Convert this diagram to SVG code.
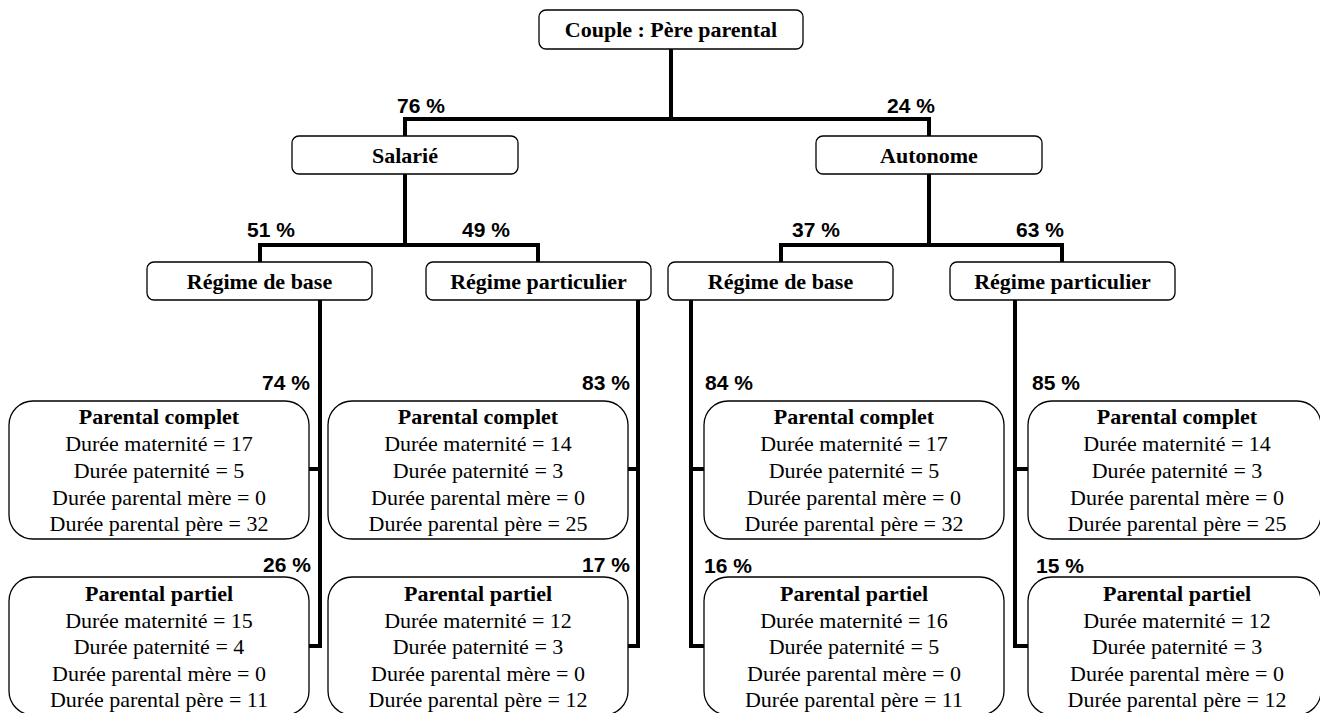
<svg xmlns="http://www.w3.org/2000/svg" width="1320" height="713" viewBox="0 0 1320 713">
<style>
.box{fill:#fff;stroke:#000;stroke-width:1.3}
.t{font-family:'Liberation Serif','Times New Roman','DejaVu Serif',serif;font-size:22px;text-anchor:middle;fill:#000}
.b{font-weight:bold}
.p{font-family:'Liberation Sans',Arial,sans-serif;font-size:21px;font-weight:bold;fill:#000}
.c{fill:none;stroke:#000;stroke-width:4;stroke-linejoin:miter;stroke-linecap:butt}
</style>
<rect width="1320" height="713" fill="#fff"/>
<g id="connectors">
<path class="c" d="M671 49V119M405 136V119H929V136"/>
<path class="c" d="M405 174V245M260 262V245H538V262"/>
<path class="c" d="M929 174V245M781 262V245H1062V262"/>
<path class="c" d="M320 300V646H309M320 469H309"/>
<path class="c" d="M638 300V646H628M638 469H628"/>
<path class="c" d="M691 300V646H704M691 469H704"/>
<path class="c" d="M1015 300V646H1028M1015 469H1028"/>
</g>
<g id="labels">
<text class="p" x="397" y="113">76 %</text>
<text class="p" x="887" y="113">24 %</text>
<text class="p" x="247" y="237">51 %</text>
<text class="p" x="462" y="237">49 %</text>
<text class="p" x="792" y="237">37 %</text>
<text class="p" x="1016" y="237">63 %</text>
<text class="p" x="262" y="390">74 %</text>
<text class="p" x="582" y="390">83 %</text>
<text class="p" x="705" y="390">84 %</text>
<text class="p" x="1032" y="390">85 %</text>
<text class="p" x="263" y="572">26 %</text>
<text class="p" x="582" y="572">17 %</text>
<text class="p" x="704" y="573">16 %</text>
<text class="p" x="1036" y="573">15 %</text>
</g>
<g id="root">
<rect class="box" x="539" y="10" width="264" height="39" rx="7"/>
<text class="t b" x="671" y="37" font-family="Liberation Serif, serif">Couple : Père parental</text>
</g>
<g id="salarie">
<rect class="box" x="292" y="136" width="226" height="38" rx="7"/>
<text class="t b" x="405" y="163">Salarié</text>
</g>
<g id="autonome">
<rect class="box" x="816" y="136" width="226" height="38" rx="7"/>
<text class="t b" x="929" y="163">Autonome</text>
</g>
<g id="sal-base">
<rect class="box" x="147" y="262" width="225" height="38" rx="7"/>
<text class="t b" x="259.5" y="289">Régime de base</text>
</g>
<g id="sal-part">
<rect class="box" x="426" y="262" width="225" height="38" rx="7"/>
<text class="t b" x="538.5" y="289">Régime particulier</text>
</g>
<g id="aut-base">
<rect class="box" x="668" y="262" width="225" height="38" rx="7"/>
<text class="t b" x="780.5" y="289">Régime de base</text>
</g>
<g id="aut-part">
<rect class="box" x="950" y="262" width="225" height="38" rx="7"/>
<text class="t b" x="1062.5" y="289">Régime particulier</text>
</g>
<g id="sal-base-complet">
<rect class="box" x="9" y="401" width="300" height="138" rx="24"/>
<text class="t b" x="159" y="424">Parental complet</text>
<text class="t" x="159" y="451">Durée maternité = 17</text>
<text class="t" x="159" y="478">Durée paternité = 5</text>
<text class="t" x="159" y="505">Durée parental mère = 0</text>
<text class="t" x="159" y="531">Durée parental père = 32</text>
</g>
<g id="sal-base-partiel">
<rect class="box" x="9" y="577" width="300" height="138" rx="24"/>
<text class="t b" x="159" y="601">Parental partiel</text>
<text class="t" x="159" y="628">Durée maternité = 15</text>
<text class="t" x="159" y="654">Durée paternité = 4</text>
<text class="t" x="159" y="681">Durée parental mère = 0</text>
<text class="t" x="159" y="707">Durée parental père = 11</text>
</g>
<g id="sal-part-complet">
<rect class="box" x="328" y="401" width="300" height="138" rx="24"/>
<text class="t b" x="478" y="424">Parental complet</text>
<text class="t" x="478" y="451">Durée maternité = 14</text>
<text class="t" x="478" y="478">Durée paternité = 3</text>
<text class="t" x="478" y="505">Durée parental mère = 0</text>
<text class="t" x="478" y="531">Durée parental père = 25</text>
</g>
<g id="sal-part-partiel">
<rect class="box" x="328" y="577" width="300" height="138" rx="24"/>
<text class="t b" x="478" y="601">Parental partiel</text>
<text class="t" x="478" y="628">Durée maternité = 12</text>
<text class="t" x="478" y="654">Durée paternité = 3</text>
<text class="t" x="478" y="681">Durée parental mère = 0</text>
<text class="t" x="478" y="707">Durée parental père = 12</text>
</g>
<g id="aut-base-complet">
<rect class="box" x="704" y="401" width="300" height="138" rx="24"/>
<text class="t b" x="854" y="424">Parental complet</text>
<text class="t" x="854" y="451">Durée maternité = 17</text>
<text class="t" x="854" y="478">Durée paternité = 5</text>
<text class="t" x="854" y="505">Durée parental mère = 0</text>
<text class="t" x="854" y="531">Durée parental père = 32</text>
</g>
<g id="aut-base-partiel">
<rect class="box" x="704" y="577" width="300" height="138" rx="24"/>
<text class="t b" x="854" y="601">Parental partiel</text>
<text class="t" x="854" y="628">Durée maternité = 16</text>
<text class="t" x="854" y="654">Durée paternité = 5</text>
<text class="t" x="854" y="681">Durée parental mère = 0</text>
<text class="t" x="854" y="707">Durée parental père = 11</text>
</g>
<g id="aut-part-complet">
<rect class="box" x="1028" y="401" width="293" height="138" rx="24"/>
<text class="t b" x="1177" y="424">Parental complet</text>
<text class="t" x="1177" y="451">Durée maternité = 14</text>
<text class="t" x="1177" y="478">Durée paternité = 3</text>
<text class="t" x="1177" y="505">Durée parental mère = 0</text>
<text class="t" x="1177" y="531">Durée parental père = 25</text>
</g>
<g id="aut-part-partiel">
<rect class="box" x="1028" y="577" width="293" height="138" rx="24"/>
<text class="t b" x="1177" y="601">Parental partiel</text>
<text class="t" x="1177" y="628">Durée maternité = 12</text>
<text class="t" x="1177" y="654">Durée paternité = 3</text>
<text class="t" x="1177" y="681">Durée parental mère = 0</text>
<text class="t" x="1177" y="707">Durée parental père = 12</text>
</g>
</svg>
